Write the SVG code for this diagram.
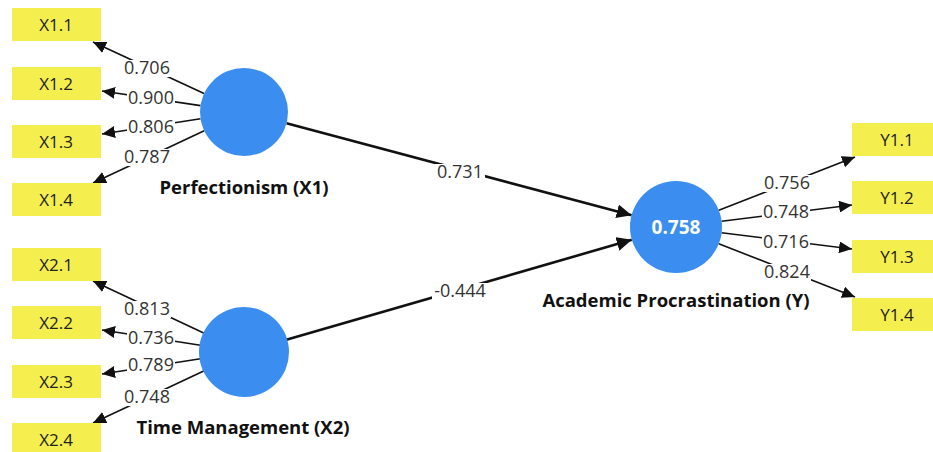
<svg xmlns="http://www.w3.org/2000/svg" width="933" height="452" viewBox="0 0 933 452">
<defs>
<marker id="ah" markerUnits="userSpaceOnUse" markerWidth="14" markerHeight="12" refX="13" refY="6" orient="auto">
<path d="M0,0 L13,6 L0,12 Z" fill="#111"/>
</marker>
<marker id="ahb" markerUnits="userSpaceOnUse" markerWidth="16" markerHeight="14" refX="15" refY="7" orient="auto">
<path d="M0,0 L15,7 L0,14 Z" fill="#111"/>
</marker>
<style>
.box{fill:#f4ef4f}
.bt{font-family:"Open Sans","Noto Sans",sans-serif;font-size:17px;fill:#222;text-anchor:middle}
.lv{fill:#3b8eef}
.ln{font-family:"Open Sans","Noto Sans",sans-serif;font-size:18.5px;font-weight:bold;fill:#111;text-anchor:middle}
.ld{stroke:#111;stroke-width:1.6;fill:none;marker-end:url(#ah)}
.pa{stroke:#111;stroke-width:2.6;fill:none;marker-end:url(#ahb)}
.bg{fill:#fff}
.val{font-family:"Open Sans","Noto Sans",sans-serif;font-size:18px;fill:#333;text-anchor:middle}
.r2{font-family:"Open Sans","Noto Sans",sans-serif;font-size:19px;font-weight:bold;fill:#fff;text-anchor:middle}
</style>
</defs>
<g id="connectors">
<line class="ld" x1="204" y1="93.5" x2="93" y2="42"/>
<line class="ld" x1="200.5" y1="105.6" x2="102" y2="91"/>
<line class="ld" x1="200.5" y1="118.7" x2="102" y2="134"/>
<line class="ld" x1="204.2" y1="130.7" x2="93" y2="183"/>
<line class="ld" x1="204.2" y1="333.3" x2="93" y2="281"/>
<line class="ld" x1="200.5" y1="345.3" x2="102" y2="330"/>
<line class="ld" x1="200.5" y1="358.7" x2="102" y2="374"/>
<line class="ld" x1="204.2" y1="370.7" x2="93" y2="423"/>
<line class="ld" x1="718.8" y1="210.2" x2="855" y2="157"/>
<line class="ld" x1="721.6" y1="221.3" x2="852" y2="205"/>
<line class="ld" x1="721.6" y1="232.7" x2="852" y2="249"/>
<line class="ld" x1="718.8" y1="243.8" x2="855" y2="297"/>
<line class="pa" x1="286.5" y1="123.3" x2="631.6" y2="215.2"/>
<line class="pa" x1="286.3" y1="339.8" x2="631.8" y2="239.8"/>
<rect class="bg" x="123" y="60" width="48" height="17"/><text class="val" x="147" y="74">0.706</text>
<rect class="bg" x="127" y="90" width="48" height="17"/><text class="val" x="151" y="104">0.900</text>
<rect class="bg" x="127" y="119" width="48" height="17"/><text class="val" x="151" y="133">0.806</text>
<rect class="bg" x="123" y="149" width="48" height="17"/><text class="val" x="147" y="163">0.787</text>
<rect class="bg" x="123" y="301" width="48" height="17"/><text class="val" x="147" y="315">0.813</text>
<rect class="bg" x="127" y="330" width="48" height="17"/><text class="val" x="151" y="344">0.736</text>
<rect class="bg" x="127" y="357" width="48" height="17"/><text class="val" x="151" y="371">0.789</text>
<rect class="bg" x="123" y="389" width="48" height="17"/><text class="val" x="147" y="403">0.748</text>
<rect class="bg" x="763" y="175" width="48" height="17"/><text class="val" x="787" y="189">0.756</text>
<rect class="bg" x="762" y="204" width="48" height="17"/><text class="val" x="786" y="218">0.748</text>
<rect class="bg" x="762" y="234" width="48" height="17"/><text class="val" x="786" y="248">0.716</text>
<rect class="bg" x="763" y="264" width="48" height="17"/><text class="val" x="787" y="278">0.824</text>
<rect class="bg" x="435" y="164" width="50" height="17"/><text class="val" x="460" y="178">0.731</text>
<rect class="bg" x="432" y="283" width="56" height="17"/><text class="val" x="460" y="297">-0.444</text>
</g>
<g id="X1.1"><rect class="box" x="12" y="8" width="89" height="33"/><text class="bt" x="56" y="31">X1.1</text></g>
<g id="X1.2"><rect class="box" x="12" y="67" width="89" height="33"/><text class="bt" x="56" y="90">X1.2</text></g>
<g id="X1.3"><rect class="box" x="12" y="125" width="89" height="33"/><text class="bt" x="56" y="148">X1.3</text></g>
<g id="X1.4"><rect class="box" x="12" y="183" width="89" height="33"/><text class="bt" x="56" y="206">X1.4</text></g>
<g id="X2.1"><rect class="box" x="12" y="248" width="89" height="33"/><text class="bt" x="56" y="271">X2.1</text></g>
<g id="X2.2"><rect class="box" x="12" y="306" width="89" height="33"/><text class="bt" x="56" y="329">X2.2</text></g>
<g id="X2.3"><rect class="box" x="12" y="365" width="89" height="33"/><text class="bt" x="56" y="388">X2.3</text></g>
<g id="X2.4"><rect class="box" x="12" y="423" width="89" height="33"/><text class="bt" x="56" y="446">X2.4</text></g>
<g id="Y1.1"><rect class="box" x="852" y="123" width="89" height="33"/><text class="bt" x="897" y="146">Y1.1</text></g>
<g id="Y1.2"><rect class="box" x="852" y="181" width="89" height="33"/><text class="bt" x="897" y="204">Y1.2</text></g>
<g id="Y1.3"><rect class="box" x="852" y="240" width="89" height="33"/><text class="bt" x="897" y="263">Y1.3</text></g>
<g id="Y1.4"><rect class="box" x="852" y="298" width="89" height="33"/><text class="bt" x="897" y="321">Y1.4</text></g>
<g id="X1"><circle class="lv" cx="244" cy="112" r="44"/><text class="ln" x="244" y="194">Perfectionism (X1)</text></g>
<g id="X2"><circle class="lv" cx="244" cy="352" r="45"/><text class="ln" x="243" y="434">Time Management (X2)</text></g>
<g id="Y"><circle class="lv" cx="676" cy="227" r="46"/><text class="r2" x="676" y="234">0.758</text><text class="ln" x="676" y="307">Academic Procrastination (Y)</text></g>
</svg>
